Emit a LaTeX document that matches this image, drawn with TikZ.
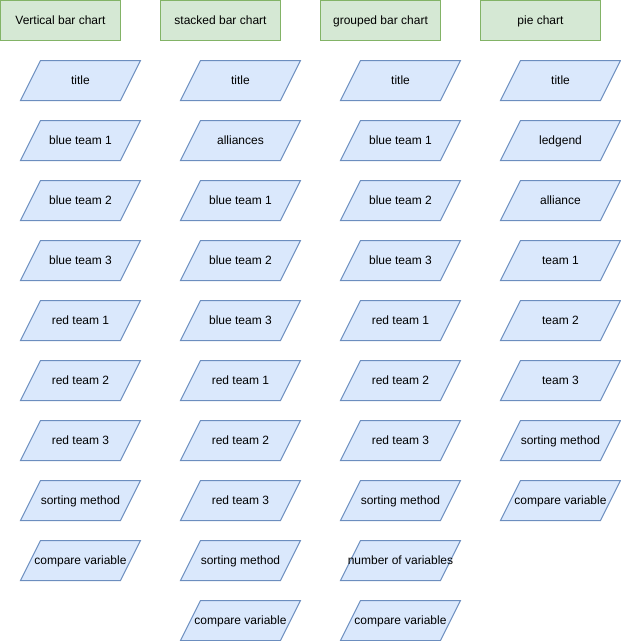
\documentclass[tikz,border=0pt]{standalone}
\usepackage{fontspec}
\setmainfont{Liberation Sans}
\definecolor{gfill}{HTML}{D5E8D4}
\definecolor{gdraw}{HTML}{82B366}
\definecolor{bfill}{HTML}{DAE8FC}
\definecolor{bdraw}{HTML}{6C8EBF}
\begin{document}
\begin{tikzpicture}[x=1pt,y=-1pt,
  header/.style={draw=gdraw,fill=gfill,line width=1pt,minimum width=120pt,minimum height=40pt,inner sep=0pt,text height=10.6pt,text depth=2.6pt,font=\fontsize{12pt}{14pt}\selectfont},
  lbl/.style={inner sep=0pt,text height=8.6pt,text depth=2.6pt,font=\fontsize{12pt}{14pt}\selectfont},
  pg/.style={draw=bdraw,fill=bfill,line width=1pt,line join=miter}]
\useasboundingbox (0,0) rectangle (621,641);
\node[header] (h1) at (60.5,20.5) {Vertical bar chart};
\node[header] (h2) at (220.5,20.5) {stacked bar chart};
\node[header] (h3) at (380.5,20.5) {grouped bar chart};
\node[header] (h4) at (540.5,20.5) {pie chart};
\newcommand{\pgram}[4]{%
  \draw[pg] (#2-59.5,#3+20) -- (#2-39.5,#3-20) -- (#2+60.5,#3-20) -- (#2+40.5,#3+20) -- cycle;
  \node[lbl] (#1) at (#2+0.5,#3+1) {#4};}
\foreach \t [count=\i] in {title,blue team 1,blue team 2,blue team 3,red team 1,red team 2,red team 3,sorting method,compare variable}
  {\pgram{a\i}{80}{20.5+60*\i}{\t}}
\foreach \t [count=\i] in {title,alliances,blue team 1,blue team 2,blue team 3,red team 1,red team 2,red team 3,sorting method,compare variable}
  {\pgram{b\i}{240}{20.5+60*\i}{\t}}
\foreach \t [count=\i] in {title,blue team 1,blue team 2,blue team 3,red team 1,red team 2,red team 3,sorting method,number of variables,compare variable}
  {\pgram{c\i}{400}{20.5+60*\i}{\t}}
\foreach \t [count=\i] in {title,ledgend,alliance,team 1,team 2,team 3,sorting method,compare variable}
  {\pgram{d\i}{560}{20.5+60*\i}{\t}}
\end{tikzpicture}
\end{document}
